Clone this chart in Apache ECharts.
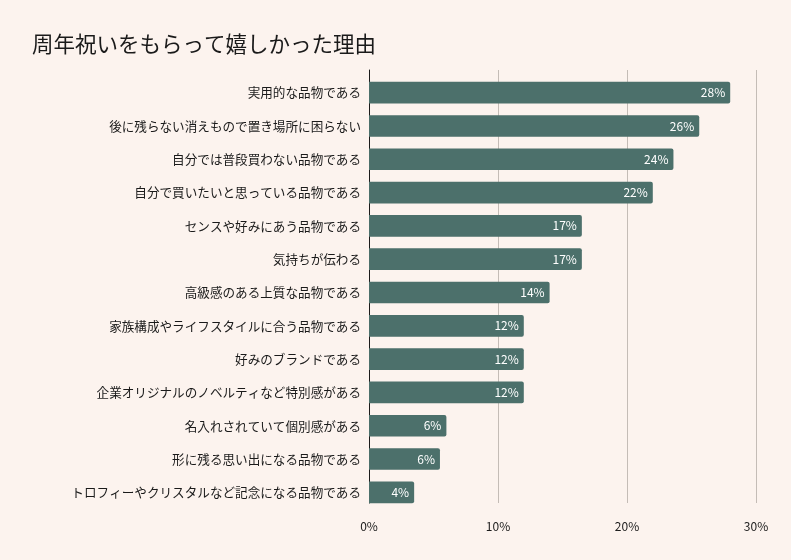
<!DOCTYPE html>
<html><head><meta charset="utf-8">
<script src="https://cdn.jsdelivr.net/npm/echarts@6/dist/echarts.min.js"></script>
<style>html,body{margin:0;padding:0;background:#fcf3ee;}#c{width:791px;height:560px;}</style>
</head><body><div id="c"></div>
<script>
const categories = [
  "実用的な品物である",
  "後に残らない消えもので置き場所に困らない",
  "自分では普段買わない品物である",
  "自分で買いたいと思っている品物である",
  "センスや好みにあう品物である",
  "気持ちが伝わる",
  "高級感のある上質な品物である",
  "家族構成やライフスタイルに合う品物である",
  "好みのブランドである",
  "企業オリジナルのノベルティなど特別感がある",
  "名入れされていて個別感がある",
  "形に残る思い出になる品物である",
  "トロフィーやクリスタルなど記念になる品物である"
];
const values = [28.0, 25.6, 23.6, 22.0, 16.5, 16.5, 14.0, 12.0, 12.0, 12.0, 6.0, 5.5, 3.5];
const xTicks = [0, 10, 20, 30];

const font = "'Noto Sans CJK JP', 'Noto Sans', sans-serif";
const xMin = xTicks[0], xMax = xTicks[xTicks.length - 1];
const chart = echarts.init(document.getElementById('c'));
chart.setOption({
  backgroundColor: '#fcf3ee',
  animation: false,
  title: {
    text: '周年祝いをもらって嬉しかった理由',
    left: 27, top: 28,
    textStyle: { fontFamily: font, fontSize: 21.5, fontWeight: 'normal', color: '#1a1a1a' }
  },
  grid: [
    { left: 369, right: 35, top: 76, bottom: 51 },
    { left: 369, right: 35, top: 70, bottom: 57 }
  ],
  xAxis: [
    { type: 'value', gridIndex: 0, min: xMin, max: xMax, interval: 10,
      show: false, splitLine: { show: false } },
    { type: 'value', gridIndex: 1, min: xMin, max: xMax, interval: 10,
      axisLine: { show: false }, axisTick: { show: false },
      splitLine: { lineStyle: { color: '#c4bcb6', width: 1 } },
      axisLabel: { formatter: v => v + '%', color: '#1a1a1a', fontSize: 12, fontFamily: font, margin: 17 } }
  ],
  yAxis: [
    { type: 'category', gridIndex: 0, data: categories, inverse: true,
      axisLine: { show: false }, axisTick: { show: false },
      axisLabel: { color: '#1a1a1a', fontSize: 12.6, fontFamily: font, margin: 8 } },
    { type: 'value', gridIndex: 1, min: 0, max: 1,
      axisLine: { show: true, lineStyle: { color: '#1a1a1a', width: 1 } },
      axisTick: { show: false }, axisLabel: { show: false }, splitLine: { show: false } }
  ],
  series: [{
    type: 'bar', xAxisIndex: 0, yAxisIndex: 0, data: values, barCategoryGap: '35%', z: 3,
    itemStyle: { color: '#4c706b', borderRadius: [0, 2, 2, 0] },
    label: {
      show: true, position: 'insideRight', distance: 5,
      formatter: p => Math.round(p.value) + '%',
      color: '#ffffff', fontSize: 12, fontFamily: font
    }
  }]
});
</script></body></html>
